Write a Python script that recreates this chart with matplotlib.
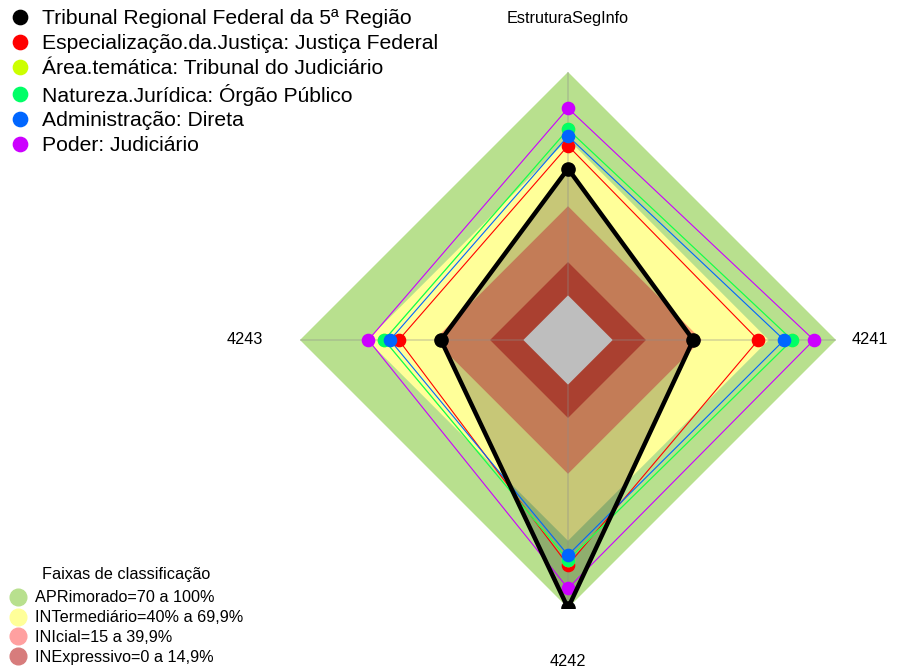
import numpy as np
import matplotlib
matplotlib.use("Agg")
import matplotlib.pyplot as plt
from matplotlib.lines import Line2D
from matplotlib.patches import Polygon

plt.rcParams['font.family'] = ['Liberation Sans', 'DejaVu Sans']

# ---------------- data ----------------
axes_labels = ["EstruturaSegInfo", "4241", "4242", "4243"]

series_names = [
    "Tribunal Regional Federal da 5ª Região",
    "Especialização.da.Justiça: Justiça Federal",
    "Área.temática: Tribunal do Judiciário",
    "Natureza.Jurídica: Órgão Público",
    "Administração: Direta",
    "Poder: Judiciário",
]
series_colors = ["#000000", "#FF0000", "#CCFF00", "#00FF66", "#0066FF", "#CC00FF"]

tribunal = [56.7, 36.1, 100.0, 36.9]
especializacao = [67.0, 65.2, 80.8, 55.8]
area_tematica = [74.3, 80.4, 78.5, 62.3]
natureza = [74.3, 80.4, 78.5, 62.3]
administracao = [71.3, 76.8, 76.3, 59.7]
poder = [83.8, 90.1, 91.2, 69.4]

band_names = ["APRimorado=70 a 100%", "INTermediário=40% a 69,9%",
              "INIcial=15 a 39,9%", "INExpressivo=0 a 14,9%"]
band_upper = [100.0, 69.9, 39.9, 14.9]
band_fill = ["#B8E08E", "#FFFF99", "#FAA070", "#DA533E"]
band_legend_colors = ["#B8E08E", "#FFFF99", "#FFA0A0", "#D77C7C"]

# ---------------- helpers ----------------
n = len(axes_labels)
angles = np.pi / 2 - np.arange(n) * 2 * np.pi / n   # clockwise from top


def to_xy(vals):
    v = np.asarray(vals, dtype=float) / 100.0
    r = 1.0 / 6.0 + 5.0 / 6.0 * v
    return r * np.cos(angles), r * np.sin(angles)


W, H = 908, 672
cx, cy, R = 568, 340, 268
fig = plt.figure(figsize=(W / 100, H / 100), dpi=100)
ax = fig.add_axes([(cx - R) / W, (H - cy - R) / H, 2 * R / W, 2 * R / H])
ax.set_xlim(-1, 1)
ax.set_ylim(-1, 1)
ax.axis('off')

# bands
for up, col in zip(band_upper, band_fill):
    x, y = to_xy([up] * n)
    ax.add_patch(Polygon(np.c_[x, y], closed=True, facecolor=col, edgecolor='none', zorder=1))

# black series fill
x, y = to_xy(tribunal)
ax.add_patch(Polygon(np.c_[x, y], closed=True, facecolor=(0, 0, 0, 0.22), edgecolor='none', zorder=2))

# gray center
x, y = to_xy([0.0] * n)
ax.add_patch(Polygon(np.c_[x, y], closed=True, facecolor="#BEBEBE", edgecolor='none', zorder=3))

# axis lines
x0, y0 = to_xy([0.0] * n)
x1, y1 = np.cos(angles), np.sin(angles)
for i in range(n):
    ax.plot([x0[i], x1[i]], [y0[i], y1[i]], color=(0.55, 0.55, 0.55), alpha=0.35, lw=1.2, zorder=4)

# series
all_series = [tribunal, especializacao, area_tematica, natureza, administracao, poder]
order = [1, 2, 3, 4, 5, 0]
for k in order:
    vals = all_series[k]
    x, y = to_xy(vals)
    xc, yc = np.r_[x, x[0]], np.r_[y, y[0]]
    if k == 0:
        ax.plot(xc, yc, color=series_colors[k], lw=3.2, zorder=10, solid_joinstyle='round')
        ax.plot(x, y, 'o', color=series_colors[k], ms=9.5, zorder=11)
    else:
        ax.plot(xc, yc, color=series_colors[k], lw=0.8, zorder=5 + k * 0.1)
        ax.plot(x, y, 'o', color=series_colors[k], ms=8.8, zorder=8 + k * 0.1)

# axis labels
label_pos = [(0.0, 1.20), (1.127, 0.0), (0.0, -1.20), (-1.205, 0.0)]
for lab, (lx, ly) in zip(axes_labels, label_pos):
    ax.text(lx, ly, lab, ha='center', va='center', fontsize=11.7, clip_on=False)

# top legend
handles = [Line2D([], [], marker='o', linestyle='None', color=c, markersize=10.3)
           for c in series_colors]
fig.legend(handles, series_names, loc='upper left',
           bbox_to_anchor=(10.2 / W, 1 - 9.5 / H), bbox_transform=fig.transFigure,
           frameon=False, fontsize=15.2, handlelength=0.9, handletextpad=0.6,
           labelspacing=0.27, borderpad=0, borderaxespad=0)

# bottom legend
handles2 = [Line2D([], [], marker='o', linestyle='None', color=c, markersize=12)
            for c in band_legend_colors]
leg2 = fig.legend(handles2, band_names, loc='lower left', title="Faixas de classificação",
                  title_fontsize=11.7,
                  bbox_to_anchor=(9.9 / W, 7 / H), bbox_transform=fig.transFigure,
                  frameon=False, fontsize=11.7, handlelength=1.0, handletextpad=0.55,
                  labelspacing=0.30, borderpad=0, borderaxespad=0)
try:
    leg2._legend_box.sep = 6
except Exception:
    pass

fig.savefig("out.png", dpi=100)
